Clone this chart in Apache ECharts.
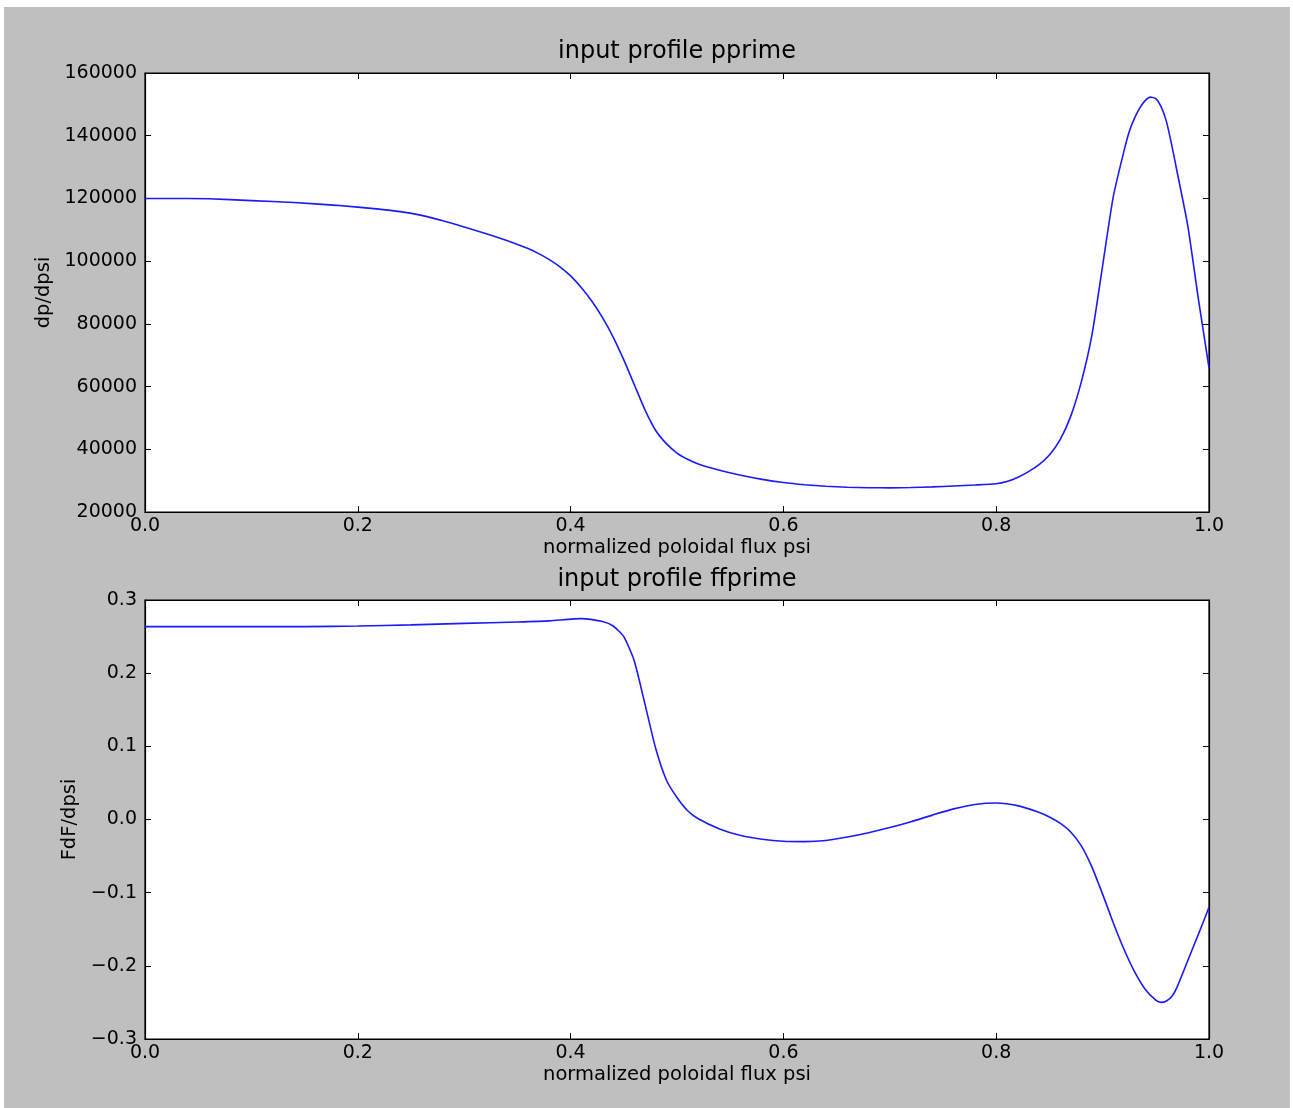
<!DOCTYPE html>
<html>
<head>
<meta charset="utf-8">
<script src="https://cdn.jsdelivr.net/npm/echarts@6/dist/echarts.min.js"></script>
<style>
  html, body { margin: 0; padding: 0; background: #ffffff; width: 1293px; height: 1108px; overflow: hidden; }
  #chart { position: absolute; left: 4px; top: 7px; width: 1286px; height: 1101px; }
</style>
</head>
<body>
<div id="chart"></div>
<script>
// ---------- data ----------
const titles = ['input profile pprime', 'input profile ffprime'];
const xAxisName = 'normalized poloidal flux psi';
const yNames = ['dp/dpsi', 'FdF/dpsi'];

const psiP = [0, 0.02, 0.04, 0.06, 0.10, 0.14, 0.18, 0.22, 0.24, 0.26, 0.28, 0.30, 0.32, 0.34, 0.36, 0.37, 0.38, 0.39, 0.40, 0.41, 0.42, 0.43, 0.44, 0.45, 0.46, 0.47, 0.48, 0.49, 0.50, 0.51, 0.52, 0.54, 0.56, 0.58, 0.60, 0.62, 0.64, 0.66, 0.68, 0.70, 0.72, 0.74, 0.76, 0.78, 0.80, 0.81, 0.82, 0.83, 0.84, 0.85, 0.86, 0.87, 0.88, 0.89, 0.90, 0.91, 0.92, 0.925, 0.93, 0.935, 0.94, 0.945, 0.95, 0.955, 0.96, 0.965, 0.97, 0.98, 0.99, 1.00];
const pprime = [120000, 120000, 120000, 119900, 119300, 118700, 117800, 116600, 115800, 114600, 112900, 110900, 108800, 106600, 104000, 102400, 100500, 98200, 95300, 91600, 87200, 82000, 75800, 68500, 60500, 52500, 46000, 41800, 38800, 36800, 35300, 33300, 31700, 30400, 29400, 28700, 28200, 27900, 27750, 27700, 27800, 28000, 28300, 28600, 29000, 29700, 31000, 32800, 35000, 38200, 43000, 50500, 61500, 76500, 98500, 120500, 135000, 141300, 145600, 148900, 151200, 152300, 151800, 149300, 144500, 137000, 128500, 111400, 88000, 66000];

const psiF = [0, 0.05, 0.10, 0.15, 0.20, 0.25, 0.30, 0.35, 0.38, 0.41, 0.43, 0.44, 0.45, 0.46, 0.47, 0.48, 0.49, 0.50, 0.51, 0.52, 0.54, 0.56, 0.58, 0.60, 0.62, 0.64, 0.66, 0.68, 0.70, 0.72, 0.74, 0.76, 0.78, 0.80, 0.82, 0.84, 0.85, 0.86, 0.87, 0.88, 0.89, 0.90, 0.91, 0.92, 0.93, 0.94, 0.95, 0.955, 0.96, 0.965, 0.97, 0.98, 0.99, 1.00];
const ffprime = [0.2636, 0.2636, 0.2636, 0.2636, 0.2645, 0.2660, 0.2680, 0.2700, 0.2715, 0.2745, 0.2705, 0.2645, 0.2500, 0.2160, 0.1570, 0.0970, 0.0540, 0.0300, 0.0120, 0.0010, -0.0130, -0.0220, -0.0270, -0.0298, -0.0302, -0.0288, -0.0240, -0.0180, -0.0110, -0.0030, 0.0060, 0.0145, 0.0205, 0.0225, 0.0190, 0.0100, 0.0035, -0.0050, -0.0170, -0.0360, -0.0650, -0.1020, -0.1410, -0.1770, -0.2080, -0.2320, -0.2470, -0.2500, -0.2480, -0.2420, -0.2290, -0.1930, -0.1570, -0.1200];

const xTicks = [0, 0.2, 0.4, 0.6, 0.8, 1.0];
const yTicksP = [20000, 40000, 60000, 80000, 100000, 120000, 140000, 160000];
const yTicksF = [-0.3, -0.2, -0.1, 0.0, 0.1, 0.2, 0.3];

// ---------- chart ----------
const FONT = 'DejaVu Sans';
const chart = echarts.init(document.getElementById('chart'), null, { renderer: 'canvas' });

function pairs(xs, ys) { return xs.map((x, i) => [x, ys[i]]); }

const gridTops = [66, 593];
const grids = gridTops.map(t => ({
  left: 141, top: t, width: 1064, height: 439,
  show: true, backgroundColor: '#ffffff', borderColor: '#000000', borderWidth: 1.2,
  containLabel: false
}));

const tickStyle = { show: true, inside: true, length: 6, lineStyle: { color: '#000', width: 1 } };
const lineStyleAxis = { show: true, onZero: false, lineStyle: { color: '#000', width: 1.2 } };

function xAxes(gi) {
  const base = { type: 'value', gridIndex: gi, min: xTicks[0], max: xTicks[xTicks.length - 1], interval: 0.2,
    splitLine: { show: false }, axisLine: lineStyleAxis, axisTick: tickStyle };
  return [
    Object.assign({}, base, {
      position: 'bottom',
      name: xAxisName, nameLocation: 'middle', nameGap: 26,
      nameTextStyle: { fontFamily: FONT, fontSize: 19.5, color: '#000' },
      axisLabel: { show: true, margin: 5, fontFamily: FONT, fontSize: 19, color: '#000', formatter: v => v.toFixed(1) }
    }),
    Object.assign({}, base, { position: 'top', axisLabel: { show: false } })
  ];
}

function yAxes(gi, ticks, interval, fmt, nameGap) {
  const base = { type: 'value', gridIndex: gi, min: ticks[0], max: ticks[ticks.length - 1], interval: interval,
    splitLine: { show: false }, axisLine: lineStyleAxis, axisTick: tickStyle };
  return [
    Object.assign({}, base, {
      position: 'left',
      name: yNames[gi], nameLocation: 'middle', nameGap: nameGap, nameRotate: 90,
      nameTextStyle: { fontFamily: FONT, fontSize: 19.5, color: '#000' },
      axisLabel: { show: true, margin: 8, fontFamily: FONT, fontSize: 19, color: '#000', formatter: fmt }
    }),
    Object.assign({}, base, { position: 'right', axisLabel: { show: false } })
  ];
}

const fmtP = v => String(Math.round(v));
const fmtF = v => { const s = Math.abs(v).toFixed(1); return v < -1e-9 ? '\u2212' + s : s; };

const option = {
  backgroundColor: '#bfbfbf',
  animation: false,
  title: [
    { text: titles[0], left: 673, top: 33, textAlign: 'center', padding: 0,
      textStyle: { fontFamily: FONT, fontSize: 24, fontWeight: 'normal', color: '#000' } },
    { text: titles[1], left: 673, top: 561, textAlign: 'center', padding: 0,
      textStyle: { fontFamily: FONT, fontSize: 24, fontWeight: 'normal', color: '#000' } }
  ],
  grid: grids,
  xAxis: [...xAxes(0), ...xAxes(1)],
  yAxis: [...yAxes(0, yTicksP, 20000, fmtP, 90), ...yAxes(1, yTicksF, 0.1, fmtF, 62)],
  series: [
    { type: 'line', xAxisIndex: 0, yAxisIndex: 0, data: pairs(psiP, pprime), showSymbol: false, smooth: 0.2,
      lineStyle: { color: '#1a1aff', width: 1.6 } },
    { type: 'line', xAxisIndex: 2, yAxisIndex: 2, data: pairs(psiF, ffprime), showSymbol: false, smooth: 0.2,
      lineStyle: { color: '#1a1aff', width: 1.6 } }
  ]
};
chart.setOption(option);
</script>
</body>
</html>
